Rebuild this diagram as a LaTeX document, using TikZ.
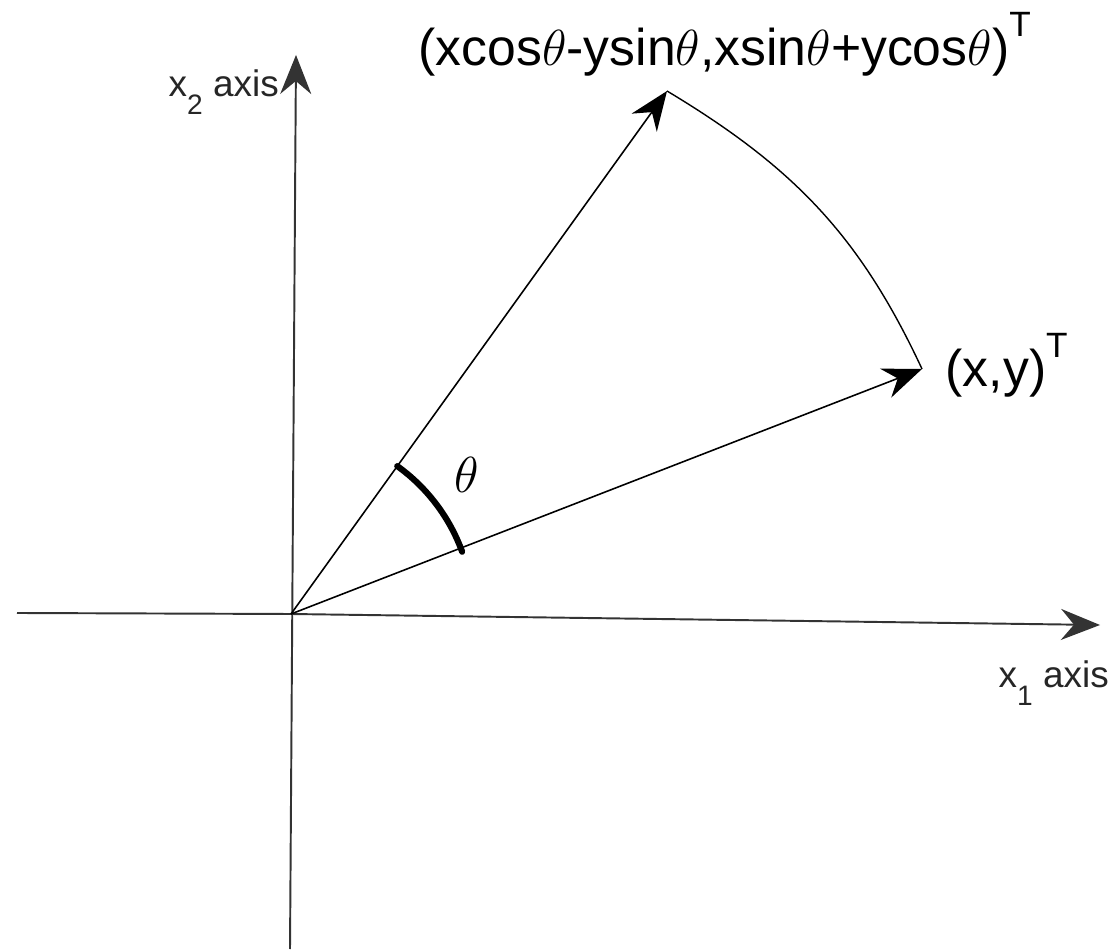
\documentclass[tikz,border=0pt]{standalone}
\usepackage{fontspec}
\setmainfont{Liberation Sans}
\usepackage{tikz}
\usetikzlibrary{arrows.meta, positioning}
\newcommand{\supT}{\raisebox{8.5pt}{\fontsize{10}{12}\selectfont T}}
\newcommand{\subidx}[1]{\raisebox{-5pt}{\fontsize{8}{10}\selectfont #1}}

\begin{document}
\begin{tikzpicture}[x=0.01cm, y=0.01cm, >={Stealth[length=0.39cm, width=0.31cm, inset=0.13cm]},
    every node/.style={inner sep=0pt},
    axisline/.style={line width=0.55pt, draw=black!80},
    vecline/.style={line width=0.45pt},
    sweep/.style={line width=0.4pt},
    anglemark/.style={line width=1.75pt, line cap=round},
    biglabel/.style={font=\fontsize{14.7}{17}\selectfont, anchor=base west},
    axislabel/.style={font=\fontsize{10.5}{12}\selectfont, anchor=base west, text=black!85}]
    \useasboundingbox (0,0) rectangle (1110,949);
    % axes
    \coordinate (O) at (291,335);
    \coordinate (x1start) at (17,336);
    \coordinate (x1end) at (1100,324);
    \coordinate (x2start) at (290,0);
    \coordinate (x2end) at (296,894);
    \draw[axisline] (x1start) -- (O);
    \draw[axisline, ->] (O) -- (x1end);
    \draw[axisline, ->] (x2start) -- (x2end);
    % vectors
    \coordinate (vtip) at (922,580);
    \coordinate (rtip) at (667,858);
    \draw[vecline, ->] (O) -- (vtip);
    \draw[vecline, ->] (O) -- (rtip);
    \draw[sweep] (rtip) to[out=-31, in=115] (vtip);
    \draw[anglemark] (O) ++(54.3:1.82cm) arc[start angle=54.3, end angle=20, radius=1.82cm];
    % labels
    \node[biglabel] (rlabel) at (418,883) {(xcos$\theta$-ysin$\theta$,xsin$\theta$+ycos$\theta$)\supT};
    \node[biglabel] (vlabel) at (945,562) {(x,y)\supT};
    \node[axislabel] (x2label) at (168,852) {x\subidx{2} axis};
    \node[axislabel] (x1label) at (998,261) {x\subidx{1} axis};
    \node[font=\fontsize{14}{16}\selectfont] (theta) at (467,474) {$\theta$};
\end{tikzpicture}
\end{document}
